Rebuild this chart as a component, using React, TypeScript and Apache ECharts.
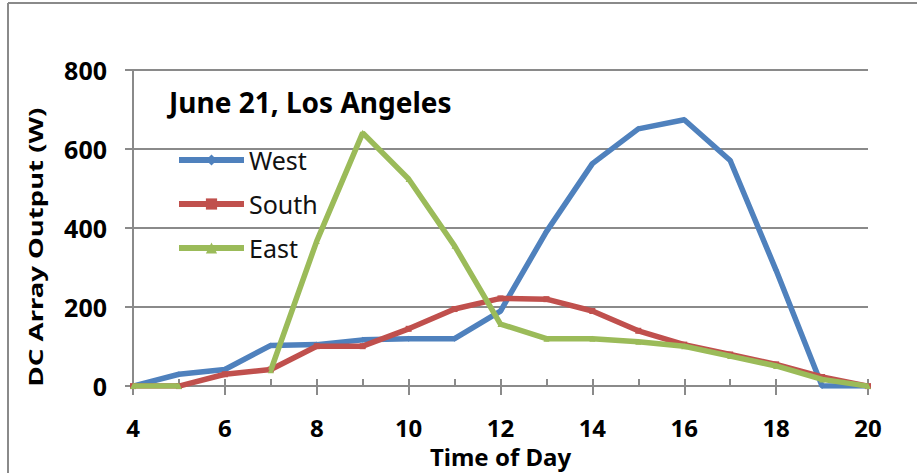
import React, { useEffect, useRef } from "react";
import * as echarts from "echarts";

const hours = [4, 5, 6, 7, 8, 9, 10, 11, 12, 13, 14, 15, 16, 17, 18, 19, 20];
const westValues = [0, 30, 42, 103, 105, 117, 120, 120, 190, 391, 563, 651, 674, 571, 293, 0, 0];
const southValues = [0, 0, 30, 42, 101, 101, 145, 195, 222, 220, 190, 140, 105, 80, 55, 23, 0];
const eastValues: (number | null)[] = [0, 0, null, 40, 367, 641, 524, 355, 157, 120, 120, 112, 101, 76, 51, 17, 0];
const seriesNames = ["West", "South", "East"];
const seriesColors = ["#4F81BD", "#C0504D", "#9BBB59"];
const seriesSymbols = ["diamond", "rect", "triangle"];
const yTicks = { min: 0, max: 800, interval: 200 };
const xTicks = { min: 4, max: 20, interval: 2 };
const titleText = "June 21, Los Angeles";
const xAxisTitle = "Time of Day";
const yAxisTitle = "DC Array Output (W)";

const FONT = "'Noto Sans', sans-serif";
const GRID_COLOR = "#8a8a8a";

export default function App() {
  const ref = useRef<HTMLDivElement>(null);
  useEffect(() => {
    document.body.style.margin = "0";
    if (!ref.current) return;
    const chart = echarts.init(ref.current, undefined, { renderer: "svg" });
    const allValues = [westValues, southValues, eastValues];
    const series = allValues.map((vals, i) => ({
      name: seriesNames[i],
      type: "line",
      data: hours.map((h, j) => [h, vals[j]]),
      connectNulls: false,
      symbol: seriesSymbols[i],
      symbolSize: 6,
      showSymbol: true,
      showAllSymbol: true,
      lineStyle: { color: seriesColors[i], width: 5.5 },
      itemStyle: { color: seriesColors[i] },
      z: 3 + i,
    }));
    chart.setOption({
      animation: false,
      backgroundColor: "#ffffff",
      title: {
        text: titleText,
        left: 169,
        top: 88,
        padding: 0,
        textStyle: { fontFamily: FONT, fontSize: 28, fontWeight: "bold", color: "#000" },
      },
      legend: {
        orient: "vertical",
        left: 176,
        top: 145,
        padding: 0,
        itemWidth: 65,
        itemHeight: 14,
        itemGap: 14,
        lineStyle: { width: 6 },
        textStyle: { fontFamily: FONT, fontSize: 25, color: "#111", lineHeight: 30 },
        data: seriesNames,
      },
      grid: { left: 133, right: 49, top: 70, bottom: 84 },
      xAxis: [
        {
          type: "value",
          min: xTicks.min,
          max: xTicks.max,
          interval: xTicks.interval,
          position: "bottom",
          axisLine: { show: true, lineStyle: { color: GRID_COLOR, width: 2 } },
          axisTick: { show: true, length: 9, lineStyle: { color: GRID_COLOR, width: 2 } },
          axisLabel: { margin: 31, lineHeight: 20, fontFamily: FONT, fontSize: 24, fontWeight: "bold", color: "#000" },
          splitLine: { show: false },
          name: xAxisTitle,
          nameLocation: "middle",
          nameGap: 51,
          nameTextStyle: { fontFamily: FONT, fontSize: 24, fontWeight: "bold", color: "#000", lineHeight: 20 },
        },
        {
          type: "value",
          min: xTicks.min,
          max: xTicks.max,
          interval: 1,
          position: "bottom",
          axisLine: { show: false },
          axisTick: { show: true, inside: true, length: 7, lineStyle: { color: GRID_COLOR, width: 2 } },
          axisLabel: { show: false },
          splitLine: { show: false },
        },
      ],
      yAxis: {
        type: "value",
        min: yTicks.min,
        max: yTicks.max,
        interval: yTicks.interval,
        axisLine: { show: true, lineStyle: { color: GRID_COLOR, width: 2 } },
        axisTick: { show: true, length: 8, lineStyle: { color: GRID_COLOR, width: 2 } },
        axisLabel: { margin: 26, fontFamily: FONT, fontSize: 25, fontWeight: "bold", color: "#000" },
        splitLine: { show: true, lineStyle: { color: GRID_COLOR, width: 2 } },
      },
      graphic: [
        {
          type: "line",
          shape: { x1: 8, y1: 3, x2: 917, y2: 3 },
          style: { stroke: GRID_COLOR, lineWidth: 2 },
        },
        {
          type: "line",
          shape: { x1: 8, y1: 3, x2: 8, y2: 473 },
          style: { stroke: GRID_COLOR, lineWidth: 2 },
        },
        {
          type: "text",
          x: 36,
          y: 247,
          rotation: Math.PI / 2,
          scaleX: 1.45,
          style: {
            text: yAxisTitle,
            fontFamily: FONT,
            fontSize: 19,
            fontWeight: "bold",
            fill: "#000",
            align: "center",
            verticalAlign: "middle",
          },
        },
      ],
      series,
    });
    return () => chart.dispose();
  }, []);
  return <div ref={ref} style={{ width: 917, height: 473 }} />;
}
